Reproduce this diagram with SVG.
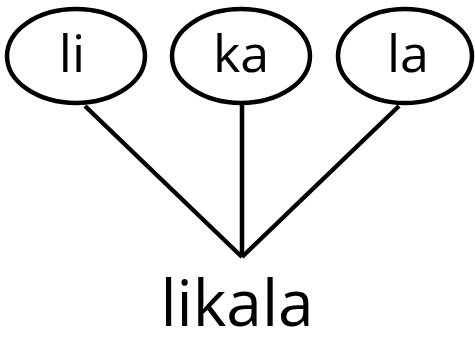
<svg xmlns="http://www.w3.org/2000/svg" width="475" height="345" viewBox="0 0 475 345">
<style>
.n ellipse{fill:#fff;stroke:#000;stroke-width:4.5}
.t{font-family:"Open Sans","Noto Sans",sans-serif;text-anchor:middle;fill:#000}
#edges line{stroke:#000;stroke-width:4.5;stroke-linecap:butt}
</style>
<rect width="475" height="345" fill="#fff"/>
<g id="edges">
<line x1="85" y1="106" x2="242" y2="257"/>
<line x1="242" y1="104" x2="242" y2="257"/>
<line x1="399" y1="106" x2="242" y2="257"/>
</g>
<g id="n-li" class="n"><ellipse cx="76" cy="56" rx="69" ry="47"/><text class="t" x="72" y="72" font-size="52">li</text></g>
<g id="n-ka" class="n"><ellipse cx="241" cy="56" rx="69" ry="47"/><text class="t" x="241" y="72" font-size="52">ka</text></g>
<g id="n-la" class="n"><ellipse cx="405" cy="56" rx="67" ry="47"/><text class="t" x="408" y="72" font-size="52">la</text></g>
<g id="n-likala"><text class="t" x="237" y="326" font-size="64">likala</text></g>
</svg>
